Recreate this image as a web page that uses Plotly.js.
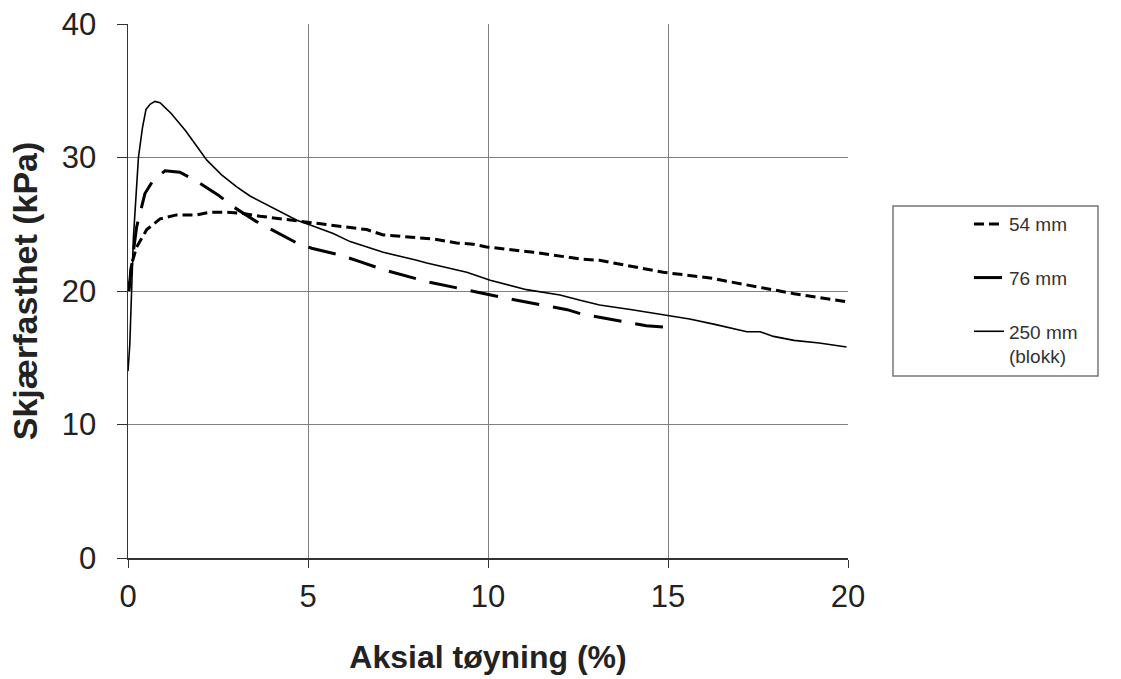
<!DOCTYPE html>
<html>
<head>
<meta charset="utf-8">
<script src="https://cdn.plot.ly/plotly-3.0.1.min.js"></script>
<style>html,body{margin:0;padding:0;background:#fff;}#chart{width:1121px;height:679px;}</style>
</head>
<body>
<div id="chart"></div>
<script>
// Series names
const seriesNames = ["54 mm", "76 mm", "250 mm<br>(blokk)"];

// 54 mm (short dashes)
const x54 = [0.02, 0.1, 0.24, 0.52, 0.89, 1.35, 1.91, 2.28, 2.74, 3.2, 3.67, 4.59, 5.98, 6.63, 7.09, 8.48, 9.13, 9.59, 9.96, 11.26, 12.56, 13.1, 14.87, 16.26, 16.5, 17.46, 18.5, 19.96];
const y54 = [20, 22, 23.3, 24.6, 25.4, 25.7, 25.7, 25.9, 25.9, 25.8, 25.6, 25.3, 24.8, 24.6, 24.2, 23.9, 23.6, 23.5, 23.3, 22.9, 22.4, 22.3, 21.4, 20.95, 20.8, 20.3, 19.8, 19.2];

// 76 mm (long dashes)
const x76 = [0.02, 0.08, 0.24, 0.47, 0.7, 1.03, 1.44, 1.86, 2.5, 2.93, 3.57, 4.69, 5.1, 5.89, 6.44, 7.09, 8.3, 9.59, 10.8, 12.2, 12.56, 14.4, 14.86];
const y76 = [20, 21.5, 24.8, 27.3, 28.3, 29.0, 28.9, 28.3, 27.2, 26.3, 25.2, 23.6, 23.2, 22.7, 22.2, 21.6, 20.7, 19.95, 19.3, 18.6, 18.3, 17.4, 17.3];

// 250 mm (blokk) (solid)
const x250 = [0, 0.05, 0.15, 0.29, 0.4, 0.5, 0.62, 0.75, 0.89, 1.2, 1.6, 2.19, 2.6, 3.02, 3.4, 3.76, 4.2, 4.69, 5.1, 5.7, 6.17, 7.09, 8.02, 8.3, 9.41, 10.06, 11.07, 12.0, 12.56, 13.1, 14.0, 14.98, 15.6, 16.3, 17.19, 17.56, 17.93, 18.5, 19.2, 19.96];
const y250 = [14, 16, 24, 30.0, 32.2, 33.6, 34.0, 34.2, 34.1, 33.3, 32.0, 29.8, 28.7, 27.8, 27.1, 26.6, 26.0, 25.3, 24.9, 24.3, 23.7, 22.9, 22.3, 22.1, 21.4, 20.8, 20.1, 19.7, 19.3, 18.95, 18.6, 18.2, 17.9, 17.5, 16.95, 16.95, 16.6, 16.3, 16.1, 15.8];

// Axis ticks
const xTicks = [0, 5, 10, 15, 20];
const yTicks = [0, 10, 20, 30, 40];

const traces = [
  {x: x54, y: y54, name: seriesNames[0], mode: "lines", legendgroup: "a",
   line: {color: "#000", width: 3, dash: "10px,5px"}},
  {x: x76, y: y76, name: seriesNames[1], mode: "lines", legendgroup: "b",
   line: {color: "#000", width: 3, dash: "28px,14px"}},
  {x: x250, y: y250, name: seriesNames[2], mode: "lines", legendgroup: "c",
   line: {color: "#000", width: 1.6}}
];

const layout = {
  width: 1121, height: 679,
  margin: {l: 128, r: 273, t: 24, b: 121},
  paper_bgcolor: "#fff", plot_bgcolor: "#fff",
  font: {family: "Liberation Sans, Arial, sans-serif", color: "#222"},
  showlegend: true,
  legend: {
    x: 1.168, xanchor: "left", y: 0.661, yanchor: "top",
    borderwidth: 0, bgcolor: "rgba(0,0,0,0)",
    font: {size: 19, color: "#333"},
    tracegroupgap: 26, valign: "top", itemwidth: 30
  },
  shapes: [
    {type: "rect", xref: "paper", yref: "paper", x0: 1.0625, x1: 1.3472, y0: 0.341, y1: 0.659,
     line: {color: "#777", width: 1.5}, fillcolor: "rgba(0,0,0,0)", layer: "below"}
  ],
  xaxis: {
    range: [0, 20], tickvals: xTicks, ticktext: xTicks.map(String),
    showgrid: true, gridcolor: "#808080", gridwidth: 1,
    zeroline: false, showline: true, linecolor: "#333", linewidth: 1.5,
    ticks: "outside", ticklen: 8, tickcolor: "#333",
    ticklabelstandoff: 2,
    tickfont: {size: 31, color: "#222"},
    title: {text: "<b>Aksial tøyning (%)</b>", font: {size: 32, color: "#222"}, standoff: 33}
  },
  yaxis: {
    range: [0, 40], tickvals: yTicks, ticktext: yTicks.map(String),
    showgrid: true, gridcolor: "#808080", gridwidth: 1,
    zeroline: false, showline: true, linecolor: "#333", linewidth: 1.5,
    ticks: "outside", ticklen: 10, tickcolor: "#333",
    ticklabelstandoff: 14,
    tickfont: {size: 31, color: "#222"},
    title: {text: "<b>Skjærfasthet (kPa)</b>", font: {size: 34, color: "#222"}, standoff: 14}
  }
};

Plotly.newPlot("chart", traces, layout, {staticPlot: true, displayModeBar: false});
</script>
</body>
</html>
